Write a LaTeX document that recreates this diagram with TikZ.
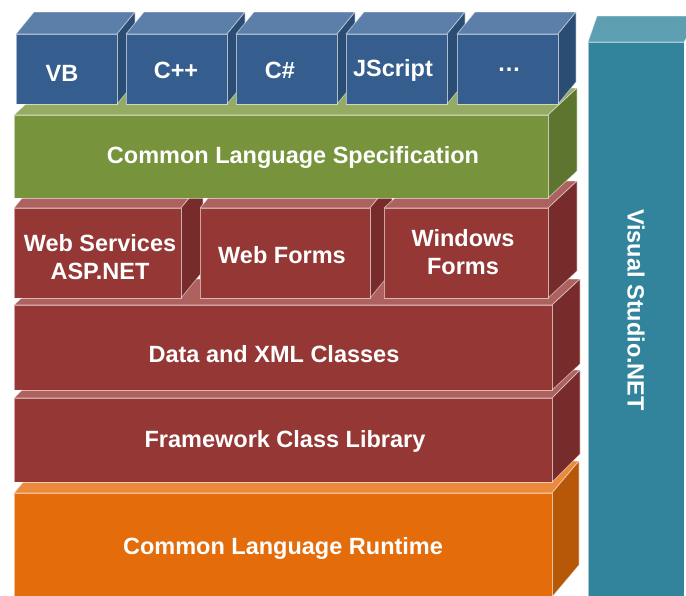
\documentclass[tikz,border=0pt]{standalone}
\usepackage{fontspec}
\setmainfont{Liberation Sans}
\definecolor{bfront}{HTML}{355E8E}
\definecolor{btop}{HTML}{5B7FA9}
\definecolor{bside}{HTML}{2B4C73}
\definecolor{gfront}{HTML}{77933C}
\definecolor{gtop}{HTML}{95AB64}
\definecolor{gside}{HTML}{5E7530}
\definecolor{rfront}{HTML}{953735}
\definecolor{rtop}{HTML}{AE6260}
\definecolor{rside}{HTML}{772B2A}
\definecolor{ofront}{HTML}{E46C0A}
\definecolor{otop}{HTML}{EC8A3C}
\definecolor{oside}{HTML}{B75808}
\definecolor{tfront}{HTML}{31849B}
\definecolor{ttop}{HTML}{5D9FB1}
\tikzset{
  edge/.style={draw=white, draw opacity=0.55, line width=0.7pt, line join=round},
  lbl/.style={text=white, font=\fontsize{23.5}{28}\selectfont\bfseries, align=center, inner sep=0pt}
}
% #1 name, #2 x0, #3 y0, #4 x1, #5 y1, #6 dx, #7 dy, #8 colour prefix
\newcommand\blockbox[8]{%
  \path[edge, fill=#8top] (#2,#3) -- ({#2+#6},{#3-#7}) -- ({#4+#6},{#3-#7}) -- (#4,#3) -- cycle;
  \path[edge, fill=#8side] (#4,#3) -- ({#4+#6},{#3-#7}) -- ({#4+#6},{#5-#7}) -- (#4,#5) -- cycle;
  \path[edge, fill=#8front] (#2,#3) rectangle (#4,#5);
  \coordinate (#1) at ({(#2+#4)/2},{(#3+#5)/2});
}
\begin{document}
\begin{tikzpicture}[x=1pt,y=-1pt]
\useasboundingbox (0,0) rectangle (686,595);
\clip (0,0) rectangle (686,595);
% Visual Studio.NET column
\path[edge, fill=ttop] (588,42) -- (597,16) -- (700,16) -- (684,42) -- cycle;
\path[edge, fill=tfront] (588,42) rectangle (684,600);
\node[lbl, rotate=-90] (vs) at (636,310) {Visual Studio.NET};
% stack, bottom to top
\blockbox{clr}{14}{493}{552}{597}{27}{32}{o}
\node[lbl] (clrt) at (283,548) {Common Language Runtime};
\blockbox{fcl}{14}{398}{552}{482}{28}{28}{r}
\node[lbl] (fclt) at (285,441) {Framework Class Library};
\blockbox{xml}{14}{305}{552}{390}{28}{26}{r}
\node[lbl] (xmlt) at (274,354) {Data and XML Classes};
\blockbox{ws}{14}{208}{181}{298}{22}{27}{r}
\node[lbl] (wst) at (100,257) {Web Services\\ASP.NET};
\blockbox{wf}{200}{208}{370}{298}{22}{27}{r}
\node[lbl] (wft) at (282,255) {Web Forms};
\blockbox{win}{384}{208}{548}{298}{29}{27}{r}
\node[lbl] (wint) at (463,252) {Windows\\Forms};
\blockbox{cls}{14}{115}{548}{198}{29}{27}{g}
\node[lbl] (clst) at (293,157) {Common Language Specification};
\blockbox{vb}{16}{34}{117}{104}{18}{22}{b}
\node[lbl] (vbt) at (62,73) {VB};
\blockbox{cpp}{126}{34}{227}{104}{18}{22}{b}
\node[lbl] (cppt) at (176,70) {C++};
\blockbox{cs}{236}{34}{337}{104}{18}{22}{b}
\node[lbl] (cst) at (280,70) {C\#};
\blockbox{js}{346}{34}{447}{104}{18}{22}{b}
\node[lbl] (jst) at (393,70) {JScript};
\blockbox{etc}{457}{34}{558}{104}{18}{22}{b}
\node[lbl] (etct) at (509,70) {…};
\end{tikzpicture}
\end{document}
